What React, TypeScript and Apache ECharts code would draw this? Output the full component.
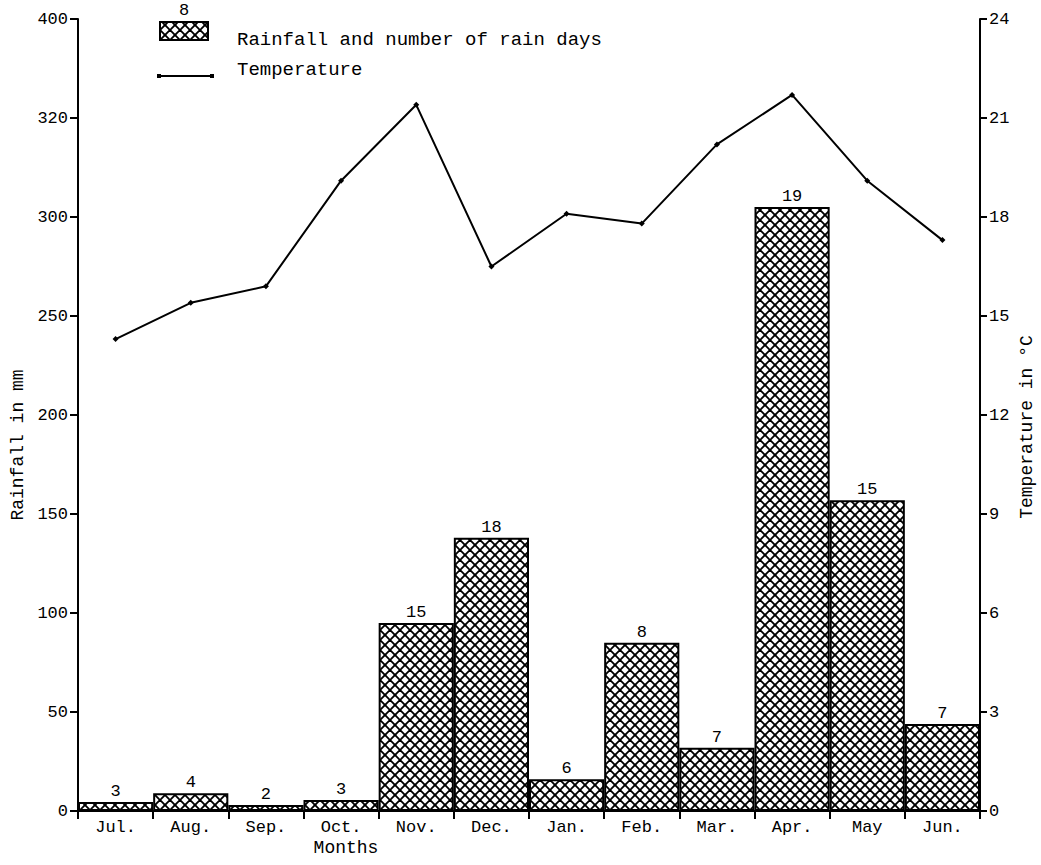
import React, { useEffect, useRef } from "react";
import * as echarts from "echarts";

const months = ["Jul.", "Aug.", "Sep.", "Oct.", "Nov.", "Dec.", "Jan.", "Feb.", "Mar.", "Apr.", "May", "Jun."];
const rainfallMm = [4.5, 9, 3, 5.5, 95, 138, 16, 85, 32, 305, 157, 44];
const rainDays = [3, 4, 2, 3, 15, 18, 6, 8, 7, 19, 15, 7];
const temperatureC = [14.3, 15.4, 15.9, 19.1, 21.4, 16.5, 18.1, 17.8, 20.2, 21.7, 19.1, 17.3];
const rainfallTickLabels = ["0", "50", "100", "150", "200", "250", "300", "320", "400"];
const legendSampleDays = "8";
const legendBarLabel = "Rainfall and number of rain days";
const legendLineLabel = "Temperature";
const xAxisTitle = "Months";
const leftAxisTitle = "Rainfall in mm";
const rightAxisTitle = "Temperature in °C";

const FONT = "'Liberation Mono', 'DejaVu Sans Mono', monospace";

function makeHatch(): HTMLCanvasElement {
  const s = 10;
  const c = document.createElement("canvas");
  c.width = s;
  c.height = s;
  const ctx = c.getContext("2d")!;
  ctx.fillStyle = "#ffffff";
  ctx.fillRect(0, 0, s, s);
  ctx.strokeStyle = "#000000";
  ctx.lineWidth = 1.9;
  for (let k = -1; k <= 1; k++) {
    ctx.beginPath();
    ctx.moveTo(k * s, 0);
    ctx.lineTo(k * s + s, s);
    ctx.stroke();
    ctx.beginPath();
    ctx.moveTo(k * s + s, 0);
    ctx.lineTo(k * s, s);
    ctx.stroke();
  }
  return c;
}

export default function App() {
  const ref = useRef<HTMLDivElement>(null);
  useEffect(() => {
    document.body.style.margin = "0";
    if (!ref.current) return;
    const chart = echarts.init(ref.current, null, { renderer: "svg" });
    const hatch = makeHatch();
    const pattern: any = { image: hatch, repeat: "repeat" };
    const textStyle = { fontFamily: FONT, color: "#000", fontSize: 17 };
    chart.setOption({
      animation: false,
      backgroundColor: "#ffffff",
      grid: { left: 78, right: 61, top: 19, bottom: 54 },
      xAxis: {
        type: "category",
        data: months,
        boundaryGap: true,
        axisLine: { lineStyle: { color: "#000", width: 2 } },
        axisTick: { show: true, alignWithLabel: false, length: 8, lineStyle: { color: "#000", width: 2 } },
        axisLabel: { ...textStyle, fontSize: 17, margin: 8, interval: 0 },
        splitLine: { show: false },
      },
      yAxis: [
        {
          type: "value",
          min: 0,
          max: 400,
          interval: 50,
          position: "left",
          axisLine: { show: true, lineStyle: { color: "#000", width: 2 } },
          axisTick: { show: true, length: 8, lineStyle: { color: "#000", width: 2 } },
          axisLabel: {
            ...textStyle,
            margin: 10,
            formatter: (v: number) => rainfallTickLabels[Math.round(v / 50)] ?? "",
          },
          splitLine: { show: false },
        },
        {
          type: "value",
          min: 0,
          max: 24,
          interval: 3,
          position: "right",
          axisLine: { show: true, lineStyle: { color: "#000", width: 2 } },
          axisTick: { show: true, length: 7, lineStyle: { color: "#000", width: 2 } },
          axisLabel: { ...textStyle, margin: 9 },
          splitLine: { show: false },
        },
      ],
      series: [
        {
          type: "bar",
          name: legendBarLabel,
          data: rainfallMm,
          yAxisIndex: 0,
          barCategoryGap: "0%",
          itemStyle: { color: pattern, borderColor: "#000", borderWidth: 2 },
          label: {
            show: true,
            position: "top",
            distance: 2,
            fontFamily: FONT,
            fontSize: 17,
            color: "#000",
            formatter: (p: any) => String(rainDays[p.dataIndex]),
          },
          z: 2,
        },
        {
          type: "line",
          name: legendLineLabel,
          data: temperatureC,
          yAxisIndex: 1,
          symbol: "diamond",
          symbolSize: 6,
          lineStyle: { color: "#000", width: 2 },
          itemStyle: { color: "#000" },
          z: 5,
        },
      ],
      graphic: [
        {
          type: "text",
          left: 179,
          top: 2,
          style: { text: legendSampleDays, font: `17px ${FONT}`, fill: "#000" },
        },
        {
          type: "rect",
          shape: { x: 160, y: 22, width: 48, height: 18 },
          style: { fill: pattern, stroke: "#000", lineWidth: 2 },
        },
        {
          type: "text",
          x: 237,
          y: 40,
          style: { text: legendBarLabel, font: `19px ${FONT}`, fill: "#000", verticalAlign: "middle", align: "left" },
        },
        {
          type: "line",
          shape: { x1: 158, y1: 76, x2: 212, y2: 76 },
          style: { stroke: "#000", lineWidth: 2 },
        },
        {
          type: "rect",
          shape: { x: 157, y: 74, width: 4, height: 4 },
          style: { fill: "#000" },
        },
        {
          type: "rect",
          shape: { x: 210, y: 74, width: 4, height: 4 },
          style: { fill: "#000" },
        },
        {
          type: "text",
          x: 237,
          y: 70,
          style: { text: legendLineLabel, font: `19px ${FONT}`, fill: "#000", verticalAlign: "middle", align: "left" },
        },
        {
          type: "text",
          x: 346,
          y: 848,
          style: { text: xAxisTitle, font: `18px ${FONT}`, fill: "#000", verticalAlign: "middle", align: "center" },
        },
        {
          type: "text",
          x: 18,
          y: 445,
          rotation: Math.PI / 2,
          style: { text: leftAxisTitle, font: `18px ${FONT}`, fill: "#000", verticalAlign: "middle", align: "center" },
        },
        {
          type: "text",
          x: 1027,
          y: 427,
          rotation: Math.PI / 2,
          style: { text: rightAxisTitle, font: `18px ${FONT}`, fill: "#000", verticalAlign: "middle", align: "center" },
        },
      ],
    });
    return () => chart.dispose();
  }, []);
  return <div ref={ref} style={{ width: 1041, height: 865 }} />;
}
